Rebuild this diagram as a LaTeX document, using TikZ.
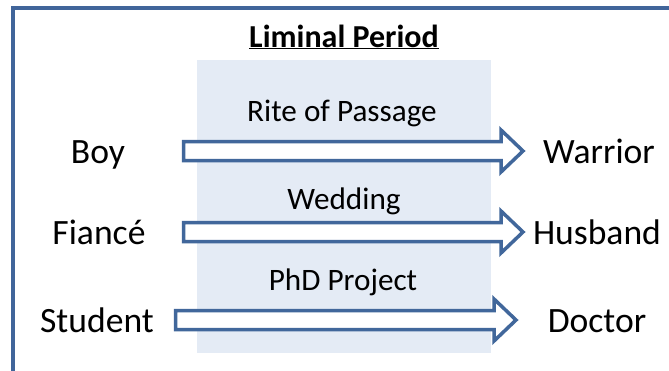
\documentclass[tikz,border=0pt]{standalone}
\usepackage{fontspec}
\setmainfont{Carlito}
\usetikzlibrary{calc}

\definecolor{frameblue}{HTML}{41659A}
\definecolor{arrowblue}{HTML}{41679B}
\definecolor{zoneblue}{HTML}{E4EBF5}

\tikzset{
  % labels of the start and end states
  state/.style={anchor=base, inner sep=0pt, font=\fontsize{35.6}{40}\selectfont},
  % labels of the transitions
  passage/.style={anchor=base, inner sep=0pt, font=\fontsize{31.2}{36}\selectfont},
  % hollow block arrow drawn from a start point to its tip
  blockarrow/.style={draw=arrowblue, line width=3.5pt, fill=white, line join=miter,
    to path={($(\tikztostart)+(0,-9.5)$) -- ($(\tikztotarget)+(-22,-9.5)$)
      -- ($(\tikztotarget)+(-22,-21)$) -- (\tikztotarget)
      -- ($(\tikztotarget)+(-22,21)$) -- ($(\tikztotarget)+(-22,9.5)$)
      -- ($(\tikztostart)+(0,9.5)$) -- cycle}}
}

\begin{document}
\begin{tikzpicture}[x=1pt, y=-1pt]
  \useasboundingbox (0,0) rectangle (669,370);
  \clip (0,0) rectangle (669,370);
  \fill[white] (0,0) rectangle (669,370);

  % outer frame (continues past the right and bottom edges)
  \draw[frameblue, line width=4pt] (12.5,400) -- (12.5,8) -- (700,8);

  % liminal zone
  \fill[zoneblue] (197,60) rectangle (491,353);

  % title
  \node[anchor=base, inner sep=0pt, font=\fontsize{32}{36}\selectfont\bfseries]
    (title) at (344,47) {\underline{Liminal Period}};

  % transition labels
  \node[passage] (rite) at (342,121) {Rite of Passage};
  \node[passage] (wed)  at (344,209) {Wedding};
  \node[passage] (phd)  at (343,290) {PhD Project};

  % states
  \node[state] (boy)     at (98,163)  {Boy};
  \node[state] (warrior) at (599,163) {Warrior};
  \node[state] (fiance)  at (99,244)  {Fiancé};
  \node[state] (husband) at (597,244) {Husband};
  \node[state] (student) at (97,332)  {Student};
  \node[state] (doctor)  at (597,332) {Doctor};

  % arrow ends
  \coordinate (a1s) at (183.5,151);  \coordinate (a1t) at (523,151);
  \coordinate (a2s) at (183.5,232);  \coordinate (a2t) at (523,232);
  \coordinate (a3s) at (175.5,320);  \coordinate (a3t) at (516,320);

  \draw[blockarrow] (a1s) to (a1t);
  \draw[blockarrow] (a2s) to (a2t);
  \draw[blockarrow] (a3s) to (a3t);
\end{tikzpicture}
\end{document}
